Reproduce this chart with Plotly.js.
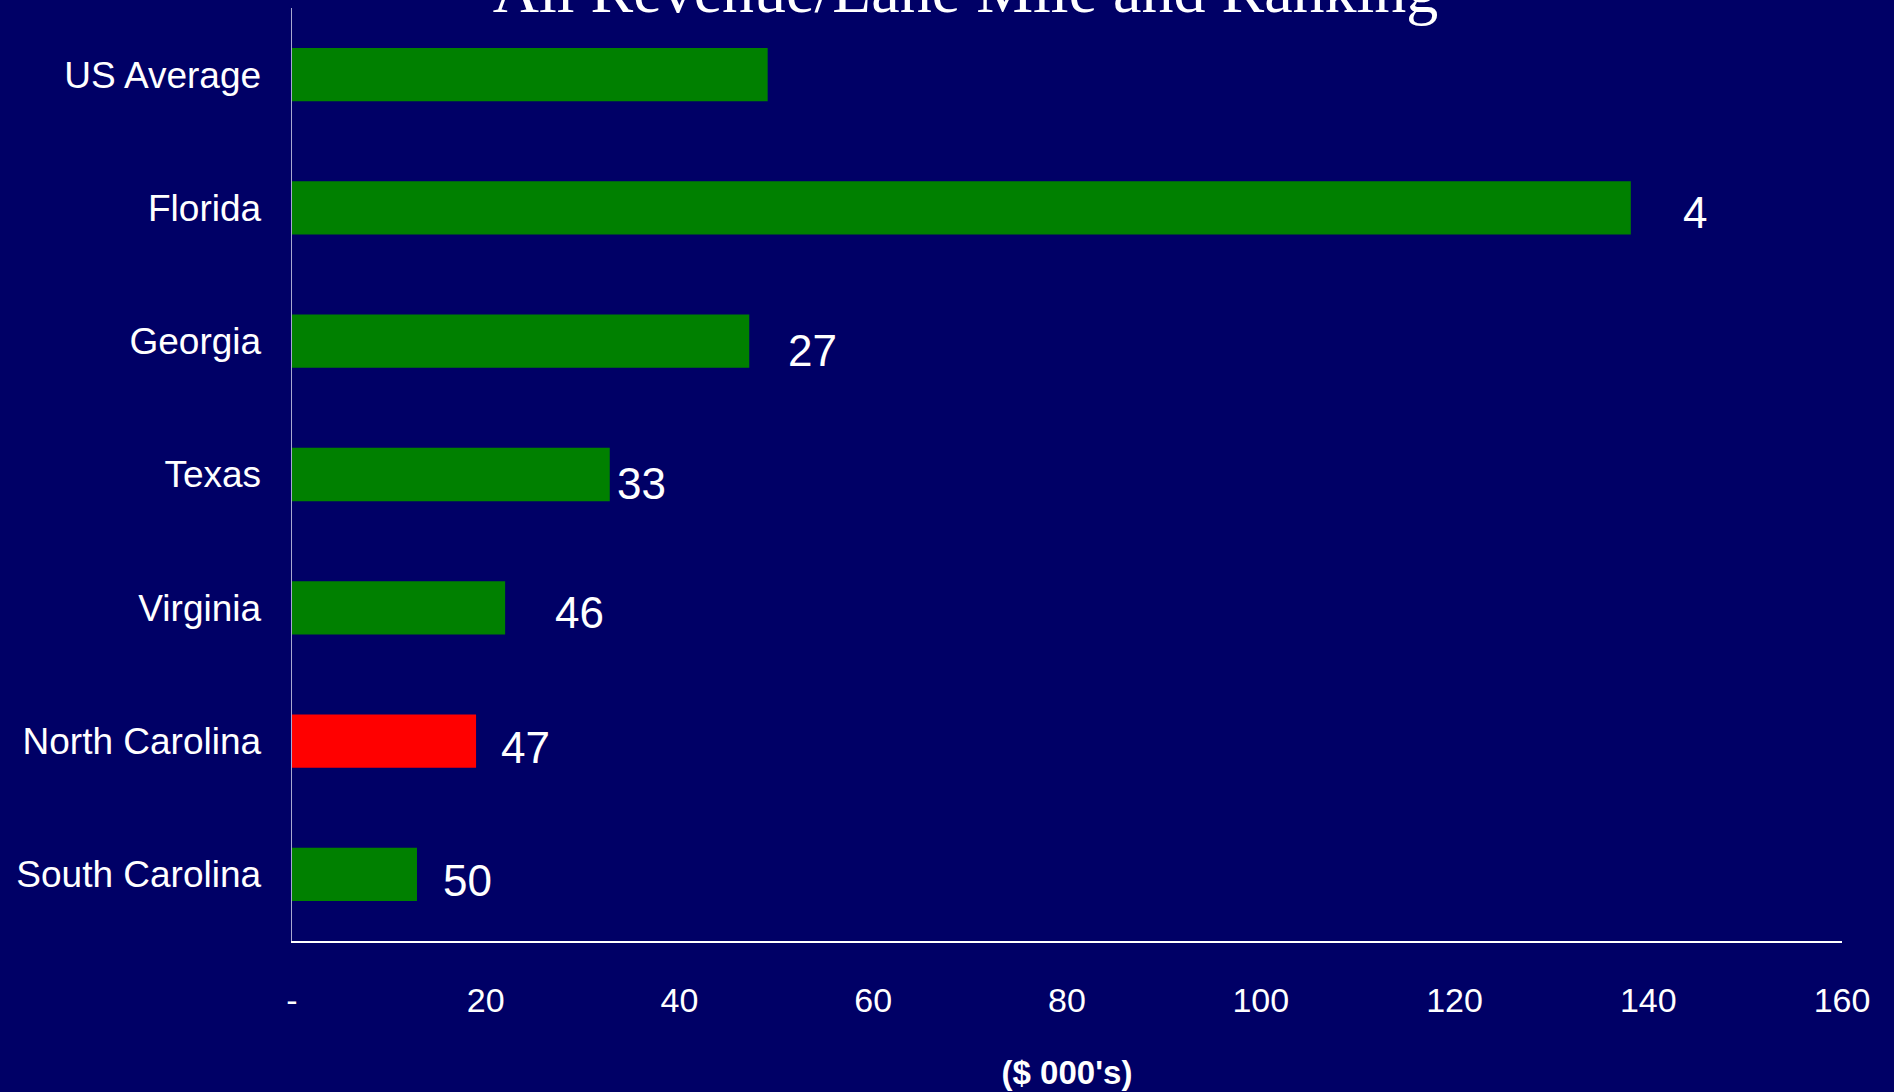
<!DOCTYPE html>
<html>
<head>
<meta charset="utf-8">
<script src="https://cdn.plot.ly/plotly-3.0.1.min.js"></script>
<style>html,body{margin:0;padding:0;background:#000066;}#chart{width:1894px;height:1092px;}</style>
</head>
<body>
<div id="chart"></div>
<script>
const categories = ['US Average', 'Florida', 'Georgia', 'Texas', 'Virginia', 'North Carolina', 'South Carolina'];
const revenuePerLaneMile = [49.1, 138.2, 47.2, 32.8, 22.0, 19.0, 12.9];
const rankings = ['', '4', '27', '33', '46', '47', '50'];
const tickValues = [0, 20, 40, 60, 80, 100, 120, 140, 160];
const tickLabels = ['-', '20', '40', '60', '80', '100', '120', '140', '160'];

// styling
const barColors = categories.map(c => c === 'North Carolina' ? '#FF0000' : '#008000');
const labelXShift = [0, 50, 37, 5, 48, 23, 24];
const labelYShift = [0, -5, -9, -9, -5, -6, -6];
const sans = "'Liberation Sans', Arial, sans-serif";

const annotations = categories.map((c, i) => ({
  x: revenuePerLaneMile[i], y: c, xref: 'x', yref: 'y',
  text: rankings[i], showarrow: false, xanchor: 'left', yanchor: 'middle',
  xshift: labelXShift[i], yshift: labelYShift[i],
  font: {family: sans, size: 44, color: '#FFFFFF'}
})).filter(a => a.text !== '');

const trace = {
  type: 'bar', orientation: 'h',
  x: revenuePerLaneMile, y: categories,
  marker: {color: barColors, line: {width: 0}},
  hoverinfo: 'x+y'
};

const layout = {
  width: 1894, height: 1092,
  paper_bgcolor: '#000066', plot_bgcolor: '#000066',
  margin: {l: 292, r: 52, t: 8, b: 151, pad: 0},
  showlegend: false,
  bargap: 0.6,
  title: {
    text: 'All Revenue/Lane Mile and Ranking',
    font: {family: "'Liberation Serif', 'Times New Roman', serif", size: 64, color: '#FFFFFF'},
    x: 0.5098, xanchor: 'center', xref: 'container',
    y: 0.989, yanchor: 'bottom', yref: 'container'
  },
  xaxis: {
    range: [0, 160], tickvals: tickValues, ticktext: tickLabels,
    showgrid: false, zeroline: false, showline: true, linecolor: '#FFFFFF', linewidth: 1.5,
    ticks: '', ticklabelstandoff: 29,
    tickfont: {family: sans, size: 34, color: '#FFFFFF'},
    title: {text: "($ 000's)", standoff: 42,
      font: {family: sans, size: 33, color: '#FFFFFF', weight: 'bold'}},
    fixedrange: true
  },
  yaxis: {
    type: 'category', categoryorder: 'array', categoryarray: categories,
    autorange: 'reversed',
    showgrid: false, zeroline: false, showline: true, linecolor: '#A8A8D0', linewidth: 1.5,
    ticks: '', ticklabelstandoff: 22,
    tickfont: {family: sans, size: 37, color: '#FFFFFF'},
    fixedrange: true
  },
  annotations: annotations
};

Plotly.newPlot('chart', [trace], layout, {displayModeBar: false, staticPlot: true});
</script>
</body>
</html>
